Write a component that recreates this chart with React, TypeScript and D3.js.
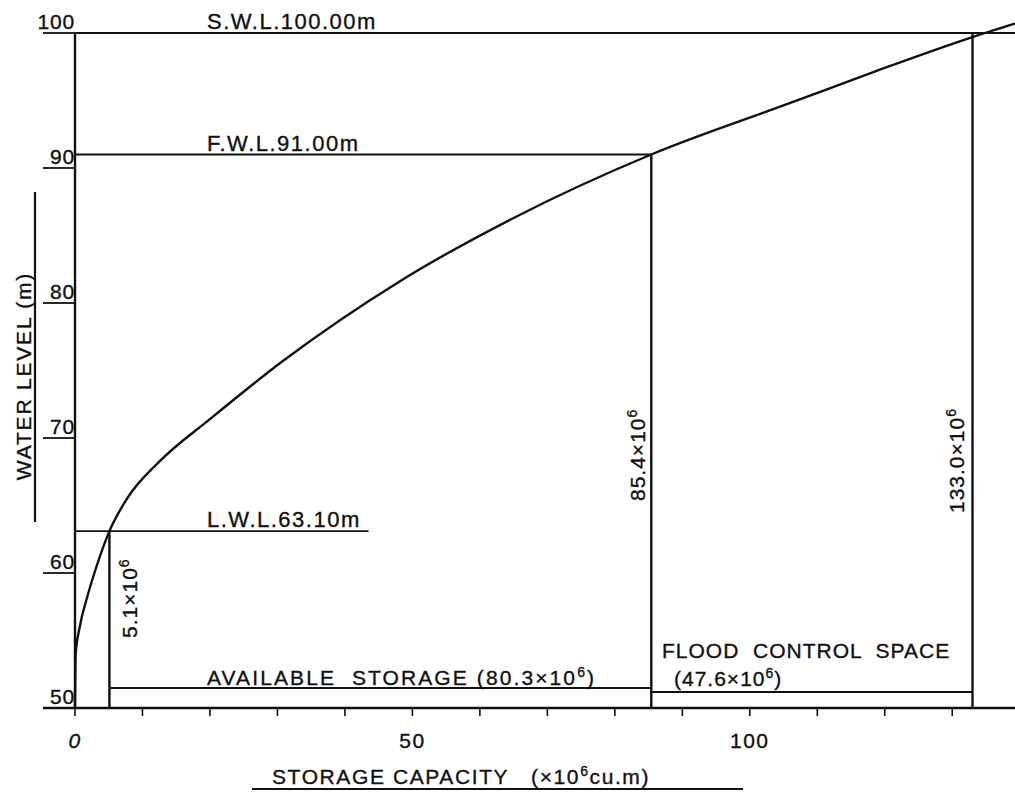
import * as d3 from 'd3';

const W = 1015;
const H = 793;

// storage capacity curve (x10^6 cu.m) vs water level (m)
const capacity = [0, 0.1, 0.7, 1.8, 3.2, 5.1, 7.7, 12.6, 20, 30.8, 48.1, 65, 85.4, 105.9, 118.8, 133, 139.3];
const level = [50, 54, 56, 58.2, 60.5, 63.1, 65.5, 68.3, 71.4, 75.7, 81.6, 86.3, 91, 94.8, 97.2, 99.7, 100.7];

// characteristic water levels
const markNames = ['S.W.L.100.00m', 'F.W.L.91.00m', 'L.W.L.63.10m'];
const markLevels = [100, 91, 63.1];
const markCaps = [133.0, 85.4, 5.1];
const markCapLabels = ['133.0', '85.4', '5.1'];
const markLineEnds = [139.3, 85.4, 43.5];

const yTicks = [50, 60, 70, 80, 90, 100];
const xLabelTicks = [0, 50, 100];
const xMinorTicks = d3.range(0, 140, 10);

const FONT = "'Liberation Sans', Arial, sans-serif";

const App = () => {
  const x = d3.scaleLinear().domain([0, 139.3]).range([75, 1015]);
  const y = d3.scaleLinear().domain([50, 100]).range([708, 33]);

  const pts = capacity.map((c, i) => [c, level[i]] as [number, number]);
  const line = d3
    .line<[number, number]>()
    .x((d) => x(d[0]))
    .y((d) => y(d[1]))
    .curve(d3.curveMonotoneX);

  const stroke = '#111';
  const ls = 2.4;
  const sup = (t: string) => <tspan fontSize={14} dy={-8}>{t}</tspan>;
  const pre = { whiteSpace: 'pre' as const };
  const tx = { stroke: '#111', strokeWidth: 0.35 };

  return (
    <svg width={W} height={H} style={{ position: 'absolute', left: 0, top: 0, background: '#fff' }}
      fontFamily={FONT} fill="#111">
      {/* axes */}
      <line x1={x(0)} x2={x(0)} y1={y(100)} y2={y(50)} stroke={stroke} strokeWidth={2.4} />
      <line x1={43} x2={W} y1={y(50)} y2={y(50)} stroke={stroke} strokeWidth={2.4} />

      {/* y ticks with underlined labels */}
      {yTicks.map((v) => (
        <g key={v}>
          <line x1={43} x2={x(0)} y1={y(v)} y2={y(v)} stroke={stroke} strokeWidth={1.8} />
          <text x={75} y={y(v) - 4} textAnchor="end" fontSize={21} letterSpacing={0.8} {...tx}>{v}</text>
        </g>
      ))}

      {/* x ticks */}
      {xMinorTicks.map((v) => (
        <line key={v} x1={x(v)} x2={x(v)} y1={y(50)} y2={y(50) + 8} stroke={stroke} strokeWidth={1.6} />
      ))}
      {xLabelTicks.map((v) => (
        <text key={v} x={x(v)} y={y(50) + 40} textAnchor="middle" fontSize={21} letterSpacing={1.5}
          fontStyle={v === 0 ? 'italic' : 'normal'} {...tx}>{v}</text>
      ))}

      {/* axis titles */}
      <text transform={`translate(31,376) rotate(-90)`} textAnchor="middle" fontSize={21} letterSpacing={1.8}
        style={pre} xmlSpace="preserve" {...tx}>
        WATER LEVEL (m)
      </text>
      <line x1={35} x2={35} y1={192} y2={522} stroke={stroke} strokeWidth={2.2} />
      <text x={272} y={784} fontSize={21} letterSpacing={1.6} style={pre} xmlSpace="preserve" {...tx}>
        {'STORAGE CAPACITY   (×10'}{sup('6')}<tspan dy={8}>cu.m)</tspan>
      </text>
      <line x1={252} x2={743} y1={789} y2={789} stroke={stroke} strokeWidth={1.8} />

      {/* characteristic levels */}
      {markNames.map((name, i) => (
        <g key={name}>
          <line x1={x(0)} x2={x(markLineEnds[i])} y1={y(markLevels[i])} y2={y(markLevels[i])}
            stroke={stroke} strokeWidth={1.8} />
          <line x1={x(markCaps[i])} x2={x(markCaps[i])} y1={y(markLevels[i])} y2={y(50)}
            stroke={stroke} strokeWidth={ls} />
          <text x={207} y={y(markLevels[i]) - 4} fontSize={22} letterSpacing={1.5} {...tx}>{name}</text>
        </g>
      ))}

      {/* rotated capacity labels */}
      <text transform={`translate(${x(markCaps[2]) + 28},638) rotate(-90)`} fontSize={21} letterSpacing={1} {...tx}>
        {markCapLabels[2]}×10{sup('6')}
      </text>
      <text transform={`translate(${x(markCaps[1]) - 6},501) rotate(-90)`} fontSize={21} letterSpacing={1} {...tx}>
        {markCapLabels[1]}×10{sup('6')}
      </text>
      <text transform={`translate(${x(markCaps[0]) - 8},513) rotate(-90)`} fontSize={21} letterSpacing={1} {...tx}>
        {markCapLabels[0]}×10{sup('6')}
      </text>

      {/* storage dimension lines */}
      <line x1={x(5.1)} x2={x(85.4)} y1={688} y2={688} stroke={stroke} strokeWidth={1.8} />
      <line x1={x(85.4)} x2={x(133)} y1={692} y2={692} stroke={stroke} strokeWidth={1.8} />
      <text x={207} y={685} fontSize={21} letterSpacing={2.1} style={pre} xmlSpace="preserve" {...tx}>
        {'AVAILABLE  STORAGE (80.3×10'}{sup('6')}<tspan dy={8}>)</tspan>
      </text>
      <text x={662} y={658} fontSize={21} letterSpacing={1} style={pre} xmlSpace="preserve" {...tx}>
        {'FLOOD  CONTROL  SPACE'}
      </text>
      <text x={674} y={686} fontSize={21} letterSpacing={1} {...tx}>
        (47.6×10{sup('6')}<tspan dy={8}>)</tspan>
      </text>

      {/* curve */}
      <path d={line(pts) || ''} fill="none" stroke={stroke} strokeWidth={ls} />
    </svg>
  );
};

export default App;
